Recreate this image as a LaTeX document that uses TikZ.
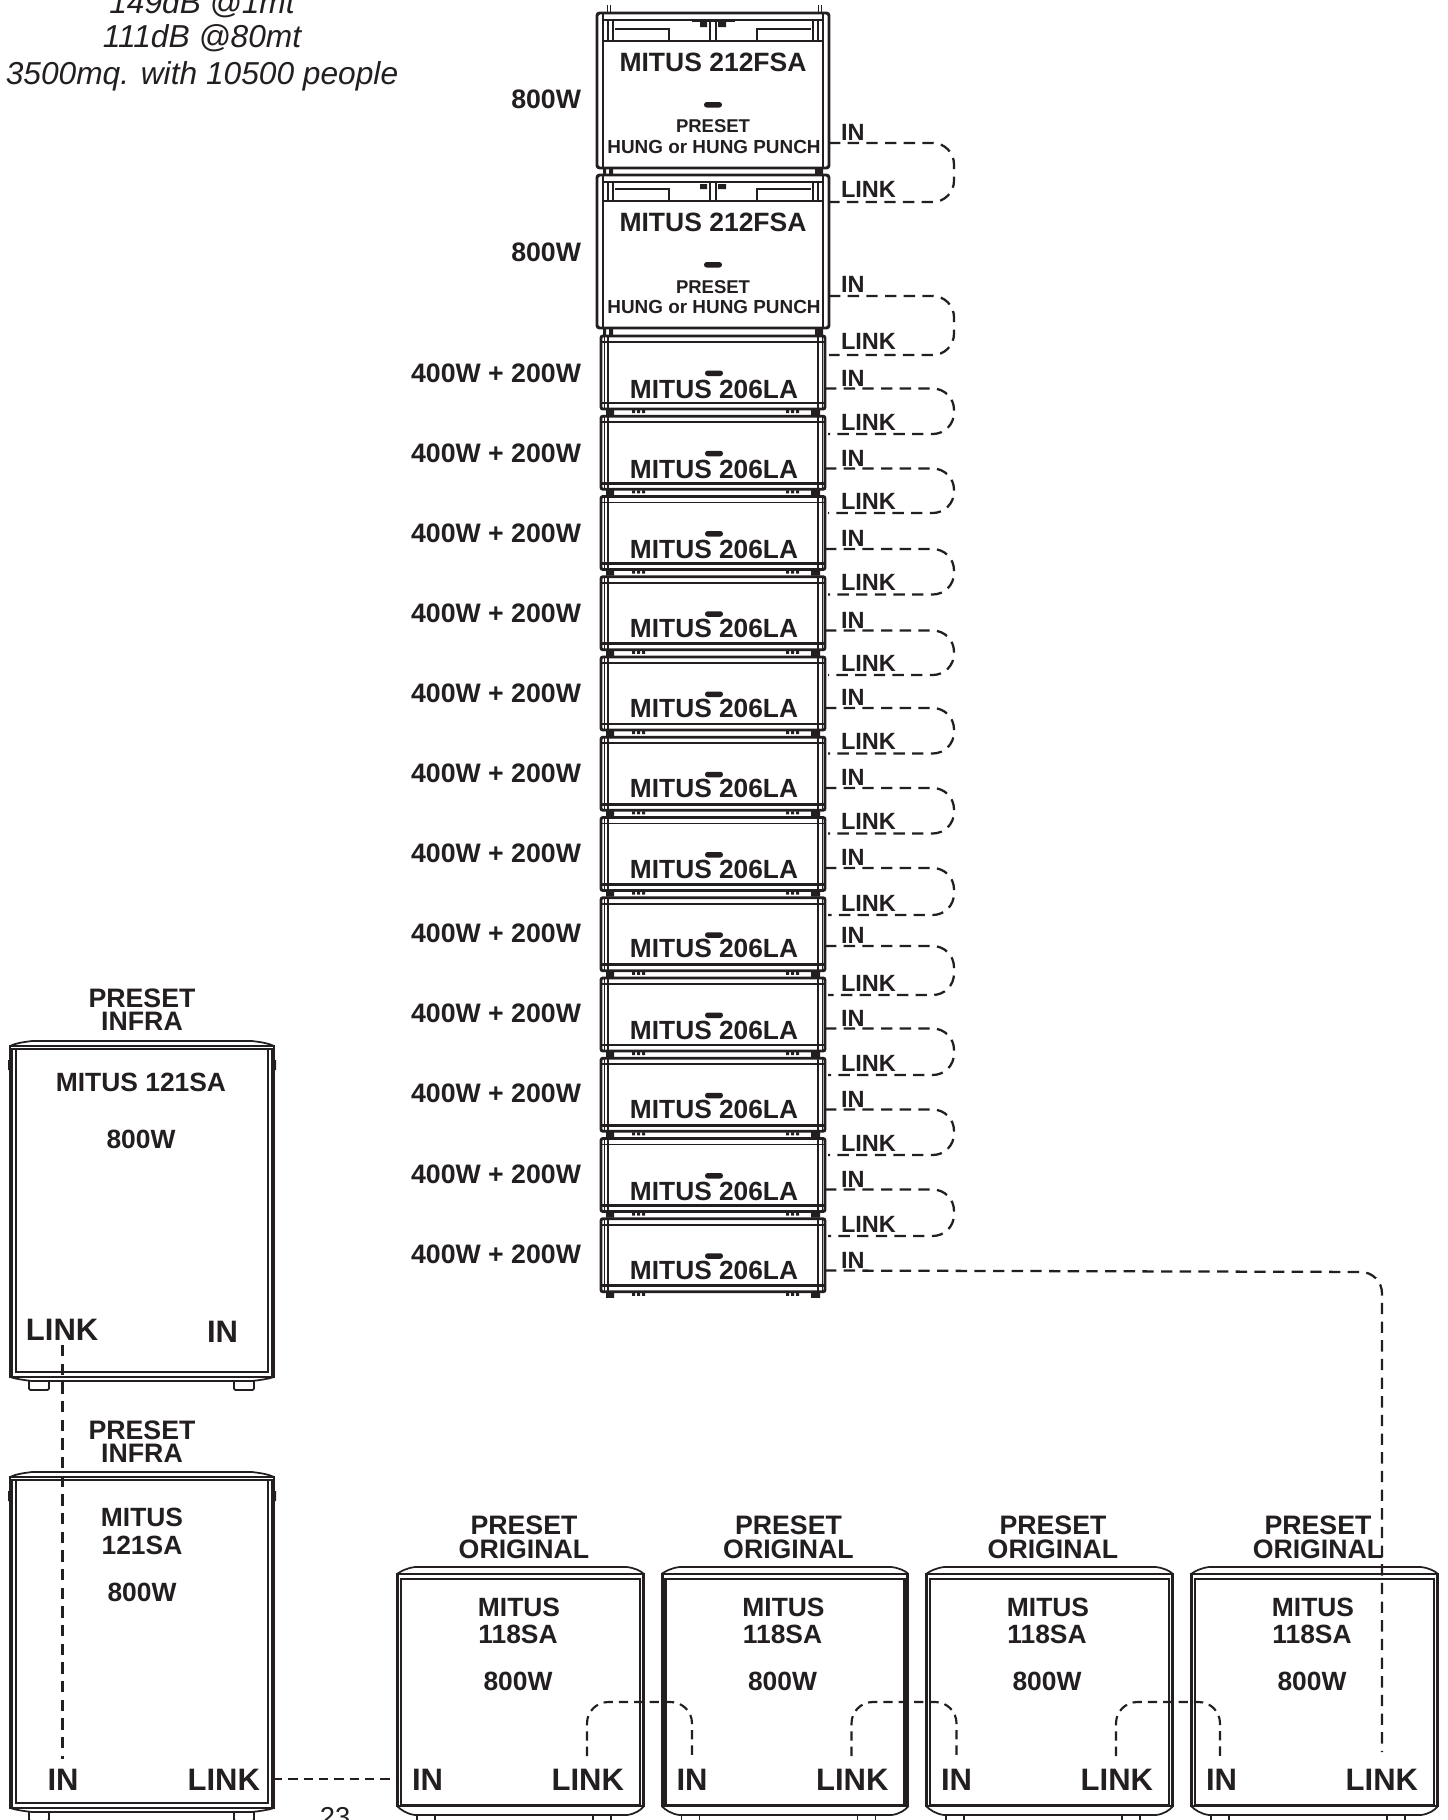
\documentclass[tikz,border=0pt]{standalone}
\usepackage{fontspec}
\setmainfont{Liberation Sans}
\definecolor{ink}{HTML}{231F20}
\tikzset{
  x=0.75pt,y=-0.75pt,
  lab/.style={inner sep=0pt,outer sep=0pt,text=ink,font=\bfseries},
  plainlab/.style={inner sep=0pt,outer sep=0pt,text=ink},
  hair/.style={draw=ink,line width=0.7pt},
  thick line/.style={draw=ink,line width=2.2pt},
  mid line/.style={draw=ink,line width=1.3pt},
  cable/.style={draw=ink,line width=1.7pt,dash pattern=on 8.5pt off 5.5pt,rounded corners=16pt},
  cableb/.style={draw=ink,line width=1.6pt,dash pattern=on 7pt off 4.5pt,rounded corners=16pt},
  pill/.style={fill=ink,rounded corners=2pt},
}
% name, anchor, x, centre y of capitals, size in px, text
\newcommand\lbl[6]{\pgfmathsetmacro\yyb{#4+0.358*#5}\pgfmathsetmacro\ffs{0.75*#5}%
  \node[lab,anchor=#2] (#1) at (#3,\yyb) {\fontsize{\ffs}{\ffs}\selectfont #6};}
\newcommand\fsa[3]{% top, height, panel line
  \begin{scope}[shift={(597,#1)}]
    \draw[thick line,rounded corners=2pt] (0,0) rectangle (232,#2);
    \draw[thick line] (6,0) -- (6,#2) (226,0) -- (226,#2);
    \draw[thick line] (6,7) -- (226,7);
    \draw[thick line] (6,#3) -- (226,#3);
    \draw[mid line] (11,7) -- (11,#3) (16,7) -- (16,#3) (216,7) -- (216,#3) (221,7) -- (221,#3);
    \draw[mid line] (113,7) -- (113,#3) (119,7) -- (119,#3);
    \draw[mid line] (18,#3-12) -- (72,#3-12) -- (72,#3);
    \draw[mid line] (214,#3-12) -- (160,#3-12) -- (160,#3);
    \fill[ink] (103,9) rectangle (110,14) (121,9) rectangle (129,14);
    \fill[ink] (6,#2) rectangle (9,#2+7) (12,#2) rectangle (16,#2+7) (218,#2) rectangle (226,#2+7);
  \end{scope}}
\newcommand\cabla[1]{% top
  \begin{scope}[shift={(601,#1)}]
    \draw[thick line,rounded corners=1.5pt] (0,1) rectangle (224,74);
    \draw[hair] (3,1) -- (3,74) (221,1) -- (221,74);
    \draw[thick line] (7,1) -- (7,74) (217,1) -- (217,74);
    \draw[mid line] (0,7) -- (224,7);
    \draw[thick line] (0,68) -- (224,68);
    \fill[ink] (5,74) rectangle (13,80) (210,74) rectangle (219,80);
    \fill[ink] (31,75) rectangle (34,78) (36,75) rectangle (39,78) (41,75) rectangle (44,78);
    \fill[ink] (185,75) rectangle (188,78) (190,75) rectangle (193,78) (195,75) rectangle (198,78);
    \fill[pill] (104,35.5) rectangle (122,41);
  \end{scope}}
\newcommand\subinfra[1]{% top
  \begin{scope}[shift={(10,#1)}]
    \draw[mid line] (0,5) .. controls (6,2) and (14,1) .. (22,0) -- (242,0) .. controls (250,1) and (258,2) .. (264,5);
    \draw[mid line] (0,5) rectangle (264,336);
    \draw[thick line] (0,8) -- (264,8) (6,8) -- (6,331) -- (258,331) -- (258,8);
    \draw[mid line] (2,8) -- (2,336) (262,8) -- (262,336);
    \draw[mid line] (0,336) .. controls (6,338) and (14,339) .. (22,340) -- (242,340) .. controls (250,339) and (258,338) .. (264,336);
    \fill[ink] (-2,19) rectangle (0,29) (264,19) rectangle (266,29);
  \end{scope}}
\newcommand\subfeet[2]{% top, foot bottom
  \begin{scope}[shift={(10,#1)}]
    \draw[mid line,rounded corners=1pt] (19,340) -- (19,#2) -- (39,#2) -- (39,340);
    \draw[mid line,rounded corners=1pt] (224,340) -- (224,#2) -- (244,#2) -- (244,340);
  \end{scope}}
\newcommand\subo[1]{% left
  \begin{scope}[shift={(#1,1567)}]
    \draw[mid line] (0,7) .. controls (4,4) and (10,1) .. (18,0) -- (230,0) .. controls (238,1) and (244,4) .. (247,7);
    \draw[mid line] (0,7) rectangle (247,239);
    \draw[thick line] (4,12) rectangle (243,238);
    \draw[mid line] (1.5,7) -- (1.5,239) (245.5,7) -- (245.5,239);
    \draw[mid line] (0,239) .. controls (4,243) and (10,247) .. (18,248) -- (230,248) .. controls (238,247) and (244,243) .. (247,239);
    \draw[mid line] (20,248) -- (20,260) (38,248) -- (38,260) (196,248) -- (196,260) (214,248) -- (214,260);
  \end{scope}}
\begin{document}
\begin{tikzpicture}
\useasboundingbox (0,0) rectangle (1447,1820);
\fill[white] (0,0) rectangle (1447,1820);
\clip (0,0) rectangle (1447,1820);

% Specification text
\lbl{specA}{base}{202}{2}{31.7}{\mdseries\itshape 149dB @1mt}
\lbl{specB}{base}{202}{36}{31.7}{\mdseries\itshape 111dB @80mt}
\lbl{specC}{base}{202}{73}{31.7}{\mdseries\itshape 3500mq. with 10500 people}

% 212FSA cabinets
\draw[mid line] (607.5,5) -- (607.5,13) (610.5,5) -- (610.5,13) (818.5,5) -- (818.5,13) (821.5,5) -- (821.5,13);
\fsa{13}{155}{28}
\fsa{175}{153}{26}
\draw[thick line] (692,21) -- (735,21);
\fill[pill] (704,102) rectangle (722,107.5);
\fill[pill] (704,262) rectangle (722,267.5);
\lbl{fsaA}{base}{713}{62}{26.5}{MITUS 212FSA}
\lbl{psA}{base}{713}{126}{18.5}{PRESET}
\lbl{hgA}{base}{714}{147}{18.9}{HUNG or HUNG PUNCH}
\lbl{fsaB}{base}{713}{222}{26.5}{MITUS 212FSA}
\lbl{psB}{base}{713}{287}{18.5}{PRESET}
\lbl{hgB}{base}{714}{307}{18.9}{HUNG or HUNG PUNCH}
\lbl{wA}{base east}{581}{99}{26.7}{800W}
\lbl{wB}{base east}{581}{252}{26.7}{800W}
\lbl{inA}{base west}{841}{132}{23.5}{IN}
\lbl{lkA}{base west}{841}{189}{23.5}{LINK}
\lbl{inB}{base west}{841}{284}{23.5}{IN}
\lbl{lkB}{base west}{841}{341}{23.5}{LINK}
\coordinate (inAo) at (829,143);
\coordinate (lkAo) at (829,202);
\coordinate (inBo) at (829,296);
\coordinate (lkBo) at (829,355);
\draw[cable] (inAo) -- (954,143) -- (954,202) -- (lkAo);
\draw[cable] (inBo) -- (954,296) -- (954,355) -- (lkBo);

% 206LA cabinets
\foreach \k/\t/\w/\m/\i/\l in {
 1/335/372.5/389/378/422,
 2/415.25/452.5/469/458/501,
 3/495.5/533/549/538.5/582.5,
 4/575.75/613/628/620/663,
 5/656/693/708/697.5/741.5,
 6/736.25/773/788.5/777.5/821.5,
 7/816.5/853/869/857.5/903,
 8/896.75/933/948/935.5/983,
 9/977/1013/1030/1018/1063,
 10/1057.25/1093/1109/1099/1143,
 11/1137.5/1174/1191/1179/1224,
 12/1217.75/1254/1270/1260/0}
{
  \cabla{\t}
  \lbl{cab\k}{base}{714}{\m}{26.3}{MITUS 206LA}
  \lbl{wt\k}{base east}{581}{\w}{26.7}{400W + 200W}
  \lbl{in\k}{base west}{841}{\i}{23.5}{IN}
  \pgfmathsetmacro\iy{\i+10.5}
  \coordinate (ino\k) at (825,\iy);
  \ifnum\k<12
    \lbl{lk\k}{base west}{841}{\l}{23.5}{LINK}
    \pgfmathsetmacro\ly{\l+12}
    \coordinate (lko\k) at (828,\ly);
    \draw[cable] (ino\k) -- (954,\iy) -- (954,\ly) -- (lko\k);
  \fi
}

% Infra subs
\subinfra{1041}
\subfeet{1041}{349}
\subinfra{1472}
\subfeet{1472}{349}
\lbl{pi1}{base}{142}{998}{26.7}{PRESET}
\lbl{nf1}{base}{142}{1021}{26.7}{INFRA}
\lbl{mi1}{base}{141}{1082}{26.4}{MITUS 121SA}
\lbl{wi1}{base}{141}{1139}{26.4}{800W}
\lbl{li1}{base west}{26}{1329}{31}{LINK}
\lbl{ii1}{base west}{207}{1331}{31}{IN}
\lbl{pi2}{base}{142}{1430}{26.7}{PRESET}
\lbl{nf2}{base}{142}{1453}{26.7}{INFRA}
\lbl{mi2}{base}{142}{1517}{26.4}{MITUS}
\lbl{mj2}{base}{142}{1545}{26.4}{121SA}
\lbl{wi2}{base}{142}{1592}{26.4}{800W}
\lbl{ii2}{base}{63}{1779}{31}{IN}
\lbl{li2}{base east}{260}{1779}{31}{LINK}
\coordinate (infraLink) at (62.5,1345);
\coordinate (infraIn) at (62.5,1759);
\draw[cable] (infraLink) -- (infraIn);
\coordinate (infraOut) at (273,1779);

% 118SA subs
\foreach \n/\L in {1/397,2/661.5,3/926,4/1191}{
  \subo{\L}
  \pgfmathsetmacro\a{\L+127}
  \pgfmathsetmacro\b{\L+122}
  \pgfmathsetmacro\c{\L+121}
  \pgfmathsetmacro\d{\L+15}
  \pgfmathsetmacro\e{\L+227}
  \lbl{po\n}{base}{\a}{1525}{26.7}{PRESET}
  \lbl{og\n}{base}{\a}{1549}{26.7}{ORIGINAL}
  \lbl{mo\n}{base}{\b}{1607}{26.4}{MITUS}
  \lbl{mp\n}{base}{\c}{1634}{26.4}{118SA}
  \lbl{wo\n}{base}{\c}{1681}{26.4}{800W}
  \lbl{io\n}{base west}{\d}{1779}{31}{IN}
  \lbl{lo\n}{base east}{\e}{1779}{31}{LINK}
}
\coordinate (subIn) at (397,1779);
\draw[cableb,rounded corners=0pt] (infraOut) -- (subIn);
\foreach \n/\p/\q in {1/587/692,2/851.5/956.5,3/1116/1220}{
  \coordinate (up\n) at (\p,1756);
  \coordinate (dn\n) at (\q,1756);
  \draw[cableb] (up\n) -- (\p,1702) -- (\q,1702) -- (dn\n);
}
\coordinate (lastIn) at (1382,1752);
\draw[cable] (ino12) -- (1382,1272) -- (lastIn);

\node[plainlab,anchor=base] (pageno) at (335,1826) {\fontsize{20.5}{20.5}\selectfont 23};
\end{tikzpicture}
\end{document}
